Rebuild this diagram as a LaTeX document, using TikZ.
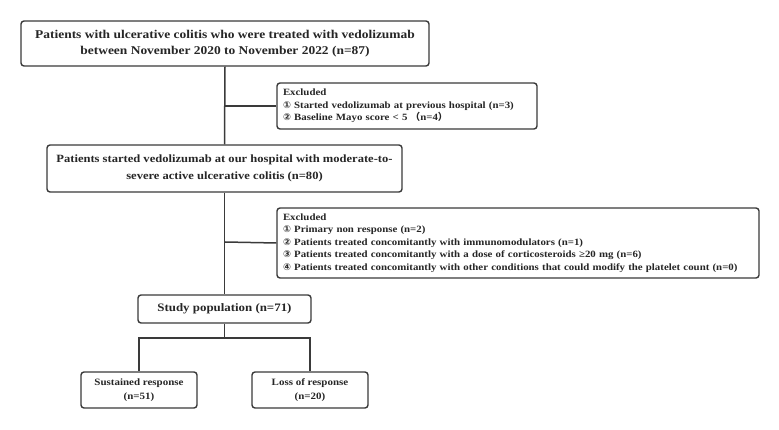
\documentclass[tikz,border=0pt]{standalone}
\usepackage{fontspec}
\setmainfont[FakeStretch=1.13]{Liberation Serif}
\newfontfamily\symf{DejaVu Sans}
\newfontfamily\cjk{Noto Sans CJK SC}
\newcommand{\cn}[1]{{\symf\fontsize{9.4}{10}\selectfont #1}}
\definecolor{edge}{HTML}{3A3A3A}
\definecolor{txt}{HTML}{262626}
\begin{document}
\begin{tikzpicture}[x=1pt,y=-1pt,
  box/.style={draw=edge, line width=1.4pt, rounded corners=3pt, fill=white, text=txt, font=\bfseries, inner sep=0pt, align=center},
  exbox/.style={box, align=left, inner xsep=6pt},
  link/.style={draw=edge, line width=1.5pt}]
\useasboundingbox (0,0) rectangle (779,430);
\node[box, minimum width=408pt, minimum height=45pt, font=\bfseries\fontsize{11.9}{16.5}\selectfont] (b1) at (225,43.5)
  {Patients with ulcerative colitis who were treated with vedolizumab\\between November 2020 to November 2022 (n=87)};
\node[exbox, minimum height=46pt, text width=248pt, font=\bfseries\fontsize{9.6}{12.5}\selectfont] (b2) at (407,106)
  {Excluded\\\cn{①} Started vedolizumab at previous hospital (n=3)\\\cn{②} Baseline Mayo score < 5 {\cjk（}n=4{\cjk）}};
\node[box, minimum width=355pt, minimum height=47pt, font=\bfseries\fontsize{11.1}{16.5}\selectfont] (b3) at (224.5,168.5)
  {Patients started vedolizumab at our hospital with moderate-to-\\severe active ulcerative colitis (n=80)};
\node[exbox, minimum height=70pt, text width=470pt, font=\bfseries\fontsize{9.6}{12.5}\selectfont] (b4) at (518,243)
  {Excluded\\\cn{①} Primary non response (n=2)\\\cn{②} Patients treated concomitantly with immunomodulators (n=1)\\\cn{③} Patients treated concomitantly with a dose of corticosteroids ≥20 mg (n=6)\\\cn{④} Patients treated concomitantly with other conditions that could modify the platelet count (n=0)};
\node[box, minimum width=173pt, minimum height=28pt, font=\bfseries\fontsize{11.4}{14}\selectfont] (b5) at (224.5,309)
  {Study population (n=71)};
\node[box, minimum width=116pt, minimum height=36pt, font=\bfseries\fontsize{9.7}{14}\selectfont] (s) at (139,390)
  {Sustained response\\(n=51)};
\node[box, minimum width=116pt, minimum height=36pt, font=\bfseries\fontsize{9.7}{14}\selectfont] (l) at (310,390)
  {Loss of response\\(n=20)};
\coordinate (j1) at (225,106);
\coordinate (j2) at (225,242);
\coordinate (j3) at (224.5,338);
\draw[link] (b1.south) -- (b3.north);
\draw[link] (j1) -- (b2.west);
\draw[link] (b3.south) -- (b5.north);
\draw[link] (j2) -- (b4.west);
\draw[link] (b5.south) -- (j3);
\draw[link] (j3) -| (s.north);
\draw[link] (j3) -| (l.north);
\end{tikzpicture}
\end{document}
